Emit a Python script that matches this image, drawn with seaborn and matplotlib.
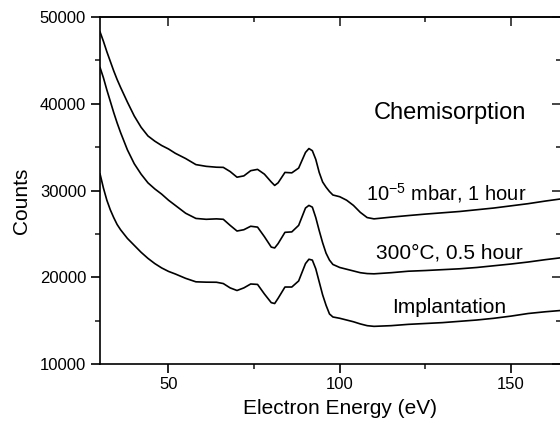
import numpy as np
import pandas as pd
import matplotlib
matplotlib.use("Agg")
import matplotlib.pyplot as plt
import seaborn as sns
from matplotlib.ticker import MultipleLocator

# electron energy grid (eV)
energy = [30, 31, 32, 33, 34, 35, 36, 38, 40, 42, 44, 46, 48, 50, 52, 55, 58, 61, 64, 66,
          68, 70, 72, 74, 76, 78, 80, 81, 82, 84, 86, 88, 89, 90, 91, 92, 93, 94, 95, 96,
          97, 98, 100, 102, 104, 106, 108, 110, 115, 120, 125, 130, 135, 140, 145, 150,
          155, 160, 164.6]

chemisorption = [48300, 47200, 46000, 44900, 43800, 42800, 41900, 40200, 38600, 37300,
                 36300, 35700, 35200, 34800, 34300, 33700, 33000, 32800, 32700, 32680,
                 32200, 31550, 31700, 32300, 32450, 31900, 31000, 30600, 30900, 32100,
                 32050, 32600, 33500, 34400, 34850, 34600, 33600, 32100, 31000, 30400,
                 29900, 29500, 29300, 28900, 28300, 27500, 26900, 26750, 26950, 27130,
                 27300, 27450, 27600, 27800, 28000, 28250, 28500, 28800, 29050]

annealed = [44200, 43000, 41600, 40300, 39000, 37800, 36700, 34700, 33100, 31900,
            30900, 30200, 29600, 28900, 28300, 27400, 26800, 26700, 26750, 26700,
            26000, 25350, 25500, 25900, 25800, 24700, 23500, 23400, 23900, 25200,
            25250, 26000, 27000, 28000, 28300, 28100, 26900, 25400, 24000, 22800,
            22000, 21500, 21150, 20950, 20750, 20550, 20450, 20420, 20550, 20720,
            20800, 20900, 21000, 21150, 21350, 21550, 21780, 22050, 22270]

implantation = [31950, 30300, 28900, 27800, 26900, 26100, 25500, 24500, 23700, 22900,
                22200, 21600, 21100, 20700, 20400, 19900, 19500, 19460, 19450, 19300,
                18800, 18500, 18800, 19250, 19200, 18100, 17100, 17000, 17600, 18900,
                18900, 19600, 20600, 21600, 22100, 22000, 21000, 19500, 18000, 16800,
                15800, 15450, 15300, 15100, 14900, 14650, 14450, 14370, 14450, 14600,
                14700, 14800, 14950, 15100, 15300, 15550, 15850, 16050, 16200]

curves = {"10^-5 mbar, 1 hour": chemisorption,
          "300°C, 0.5 hour": annealed,
          "Implantation": implantation}

sns.set_theme(style="ticks")
plt.rcParams['font.family'] = ['Liberation Sans', 'DejaVu Sans']
plt.rcParams['mathtext.fontset'] = 'custom'
plt.rcParams['mathtext.rm'] = 'Liberation Sans'
plt.rcParams['mathtext.it'] = 'Liberation Sans'
plt.rcParams['text.color'] = 'black'
plt.rcParams['axes.labelcolor'] = 'black'

fig = plt.figure(figsize=(5.6, 4.24), dpi=100)
ax = fig.add_axes([100 / 560, 1 - 364.3 / 424, 461 / 560, 347.3 / 424])

for name, vals in curves.items():
    df = pd.DataFrame({"Energy": energy, "Counts": vals})
    sns.lineplot(data=df, x="Energy", y="Counts", ax=ax, color="black", lw=1.2)

ax.set_xlim(30, 164.6)
ax.set_ylim(10000, 50000)
ax.xaxis.set_major_locator(MultipleLocator(50))
ax.xaxis.set_minor_locator(MultipleLocator(25))
ax.yaxis.set_major_locator(MultipleLocator(10000))
ax.yaxis.set_minor_locator(MultipleLocator(5000))

for s in ax.spines.values():
    s.set_linewidth(1.2)
    s.set_color("black")

ax.tick_params(which="major", direction="out", length=6.5, width=1.2, labelsize=12,
               colors="black", bottom=True, left=True)
ax.tick_params(which="minor", direction="out", length=3.5, width=1.2,
               bottom=True, left=True)
ax.tick_params(axis="x", which="major", pad=2.5)
ax.tick_params(axis="y", which="major", pad=3.5)

# mirrored inward ticks on top and right
top = ax.secondary_xaxis("top")
top.xaxis.set_major_locator(MultipleLocator(50))
top.xaxis.set_minor_locator(MultipleLocator(25))
top.tick_params(which="major", direction="in", length=6.5, width=1.2, labeltop=False)
top.tick_params(which="minor", direction="in", length=3.5, width=1.2)
top.spines["top"].set_linewidth(1.2)
right = ax.secondary_yaxis("right")
right.yaxis.set_major_locator(MultipleLocator(10000))
right.yaxis.set_minor_locator(MultipleLocator(5000))
right.tick_params(which="major", direction="in", length=6.5, width=1.2, labelright=False)
right.tick_params(which="minor", direction="in", length=3.5, width=1.2)

ax.set_xlabel("Electron Energy (eV)", fontsize=15, color="black")
ax.set_ylabel("Counts", fontsize=15, color="black")
ax.xaxis.set_label_coords(0.5206, -0.1)
ax.yaxis.set_label_coords(-0.15, 0.4717)

ax.text(132.2, 38240, "Chemisorption", fontsize=17, ha="center", va="baseline", color="black")
ax.text(131.1, 28850, r"10$^{-5}$ mbar, 1 hour", fontsize=14.5, ha="center", va="baseline",
        color="black")
ax.text(131.9, 22150, "300°C, 0.5 hour", fontsize=15, ha="center", va="baseline", color="black")
ax.text(132.0, 15900, "Implantation", fontsize=15, ha="center", va="baseline", color="black")

fig.savefig("out.png", dpi=100)
